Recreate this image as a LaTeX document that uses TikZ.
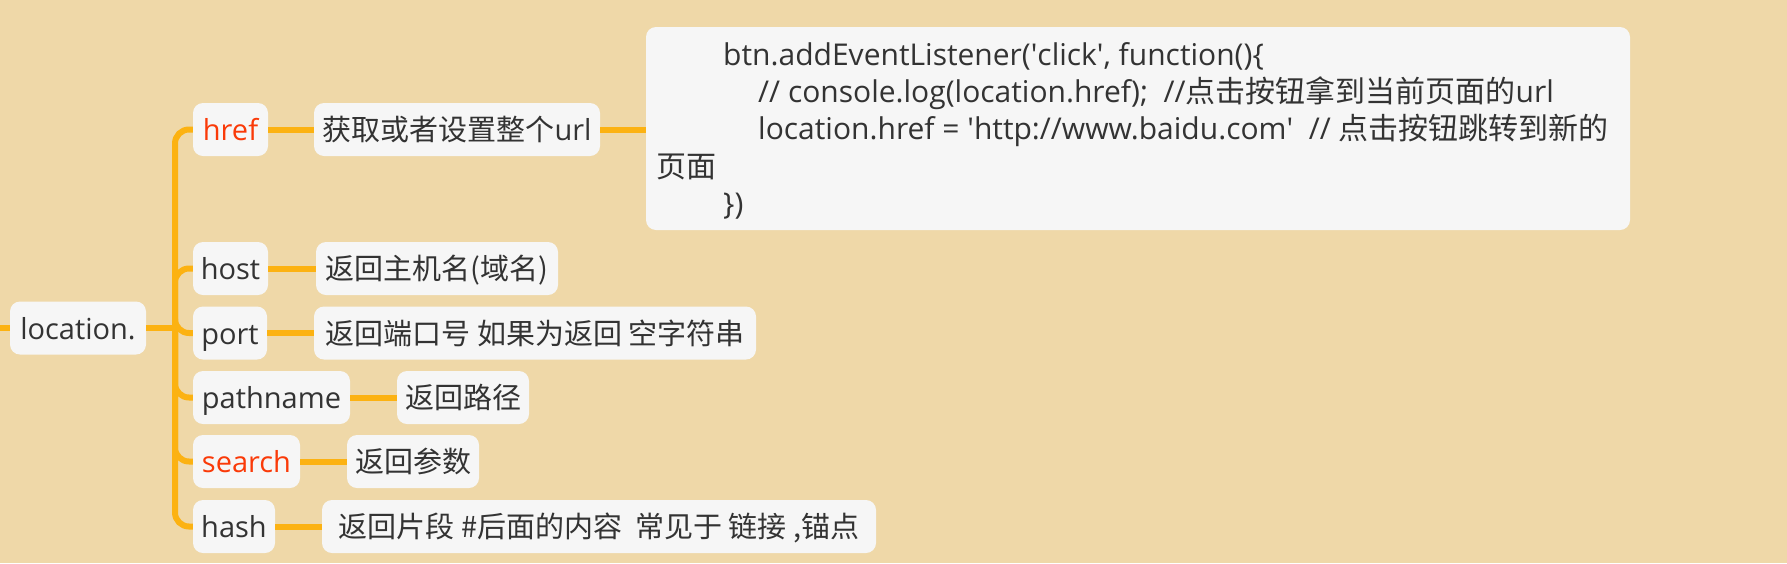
\documentclass[tikz,border=0pt]{standalone}
\usepackage{fontspec}
\setmainfont{Open Sans}
\newfontfamily\cjk{Noto Sans CJK SC}
\definecolor{bgc}{RGB}{239,216,168}
\definecolor{boxc}{RGB}{246,246,246}
\definecolor{linec}{RGB}{252,178,18}
\definecolor{redc}{RGB}{250,58,8}
\definecolor{txtc}{RGB}{51,51,51}
\begin{document}
\begin{tikzpicture}[x=1pt,y=-1pt,
  font=\fontsize{29}{34}\selectfont,
  box/.style={fill=boxc, rounded corners=10pt, inner sep=0pt, text=txtc,
    minimum height=53pt, text height=25pt, text depth=3pt},
  hot/.style={text=redc},
  conn/.style={draw=linec, line width=6pt},
  codeline/.style={anchor=base west, inner sep=0pt, text=txtc,
    font=\fontsize{30}{35}\selectfont}]
\useasboundingbox (0,0) rectangle (1787,563);
\fill[bgc] (0,0) rectangle (1787,563);

% root and children
\node[box, minimum width=136pt] (loc) at (78,328) {location.};
\node[box, hot, minimum width=75pt] (href) at (230.5,129.5) {href};
\node[box, minimum width=75pt] (host) at (230.5,268.5) {host};
\node[box, minimum width=74pt] (port) at (230,333) {port};
\node[box, minimum width=157pt] (path) at (271.5,397.5) {pathname};
\node[box, hot, minimum width=107pt] (search) at (246.5,461.5) {search};
\node[box, minimum width=82pt] (hash) at (234,526.5) {hash};

% descriptions
\node[box, minimum width=286pt] (hrefd) at (457,129.5) {{\cjk 获取或者设置整个}url};
\node[box, minimum width=242pt] (hostd) at (437,268.5) {\cjk 返回主机名(域名)};
\node[box, minimum width=442pt] (portd) at (535,333) {\cjk 返回端口号 如果为返回 空字符串};
\node[box, minimum width=132pt] (pathd) at (463,397.5) {\cjk 返回路径};
\node[box, minimum width=132pt] (searchd) at (413,461.5) {\cjk 返回参数};
\node[box, minimum width=554pt] (hashd) at (599,526.5) {\cjk 返回片段 \#后面的内容\ \ 常见于 链接 ,锚点};

% code box
\node[box, minimum width=984pt, minimum height=203pt] (code) at (1138,128.5) {};
\node[codeline] (c1) at (723,65) {btn.addEventListener(\textquotesingle click\textquotesingle, function()\{};
\node[codeline] (c2) at (758,102) {// console.log(location.href);\ \ //{\cjk 点击按钮拿到当前页面的}url};
\node[codeline] (c3) at (758,139.5) {location.href = \textquotesingle http://www.baidu.com\textquotesingle\ \ // {\cjk 点击按钮跳转到新的}};
\node[codeline] (c4) at (656,177) {\cjk 页面};
\node[codeline] (c5) at (723,214.5) {\})};

% connectors
\coordinate (ls) at (0,328);
\coordinate (tr) at (175,328);
\draw[conn] (ls) -- (loc.west);
\draw[conn] (loc.east) -- (tr);
\foreach \n in {href,host,port,path,search,hash}
  \draw[conn, rounded corners=14pt] (tr) |- (\n.west);
\draw[conn] (href.east) -- (hrefd.west);
\draw[conn] (host.east) -- (hostd.west);
\draw[conn] (port.east) -- (portd.west);
\draw[conn] (path.east) -- (pathd.west);
\draw[conn] (search.east) -- (searchd.west);
\draw[conn] (hash.east) -- (hashd.west);
\draw[conn] (hrefd.east) -- (code.west |- hrefd.east);
\end{tikzpicture}
\end{document}
